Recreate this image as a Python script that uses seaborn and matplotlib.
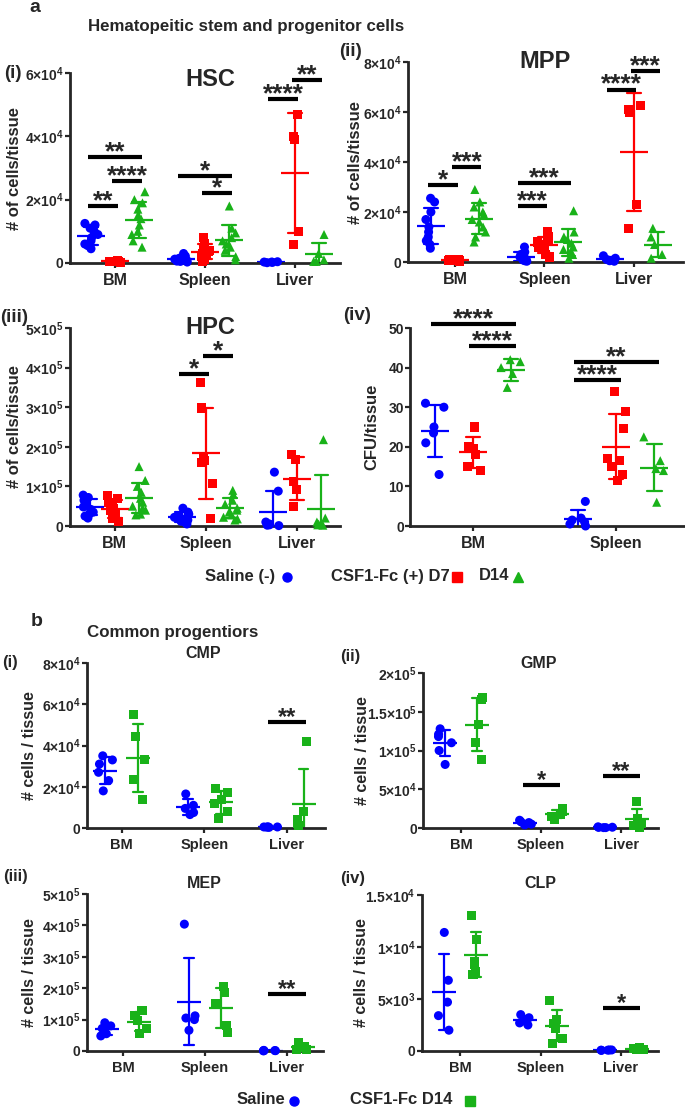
import numpy as np
import pandas as pd
import matplotlib
matplotlib.use("Agg")
import matplotlib.pyplot as plt
from matplotlib.lines import Line2D
from matplotlib.ticker import FuncFormatter
import seaborn as sns

np.random.seed(7)  # only for the horizontal jitter of the dots

W, H = 685, 1110
tissues = ["BM", "Spleen", "Liver"]
tissues_cfu = ["BM", "Spleen"]
groups_a = ["Saline (-)", "CSF1-Fc (+) D7", "D14"]
groups_b = ["Saline", "CSF1-Fc D14"]
blue, red, green = "#0000ff", "#ff0000", "#19b219"

# ---- panel a: cells / tissue ----
hsc_saline = {"BM": [12.5e3, 12e3, 11e3, 10e3, 9e3, 8e3, 7e3, 6e3, 5.5e3, 4.5e3],
              "Spleen": [3e3, 2.2e3, 1.5e3, 1.2e3, 1e3, 0.8e3, 0.6e3, 0.5e3, 0.3e3],
              "Liver": [300, 200, 400, 100, 300]}
hsc_d7 = {"BM": [300, 500, 600, 400, 700, 500, 600, 400],
          "Spleen": [8e3, 6e3, 5e3, 4e3, 3.5e3, 3e3, 2.5e3, 2e3, 1e3, 0.5e3],
          "Liver": [47e3, 40e3, 39e3, 10e3, 5.8e3]}
hsc_d14 = {"BM": [22.5e3, 20e3, 19e3, 17e3, 15e3, 14e3, 12e3, 10e3, 9e3, 7e3, 5e3],
           "Spleen": [18e3, 11e3, 9.5e3, 8e3, 7e3, 6e3, 5e3, 4e3, 2e3, 1e3],
           "Liver": [9e3, 3e3, 1e3, 0.5e3, 0.5e3]}

mpp_saline = {"BM": [25.5e3, 24e3, 20e3, 17e3, 14e3, 12e3, 10e3, 8.5e3, 7e3, 5.5e3],
              "Spleen": [6e3, 4e3, 3e3, 2e3, 1.5e3, 1e3, 0.8e3, 0.5e3, 0.3e3],
              "Liver": [2.5e3, 1.5e3, 1e3, 0.5e3, 0.3e3]}
mpp_d7 = {"BM": [1e3, 800, 600, 500, 700, 400, 900, 600],
          "Spleen": [12e3, 10e3, 9e3, 8e3, 7e3, 6.5e3, 6e3, 5e3, 3e3, 2e3],
          "Liver": [62.5e3, 61e3, 60e3, 23e3, 13.5e3]}
mpp_d14 = {"BM": [29e3, 24e3, 22e3, 20e3, 19e3, 17e3, 16e3, 14e3, 12e3, 10e3, 8e3],
           "Spleen": [20.5e3, 12e3, 10e3, 9e3, 7.5e3, 6e3, 5e3, 4e3, 3e3, 1.5e3],
           "Liver": [13.5e3, 10e3, 7e3, 3e3, 1.5e3]}

hpc_saline = {"BM": [78e3, 72e3, 65e3, 55e3, 48e3, 42e3, 35e3, 30e3, 25e3, 20e3],
              "Spleen": [45e3, 35e3, 30e3, 25e3, 22e3, 20e3, 15e3, 12e3, 8e3, 5e3],
              "Liver": [136e3, 88e3, 10e3, 5e3, 3e3, 2e3, 1e3]}
hpc_d7 = {"BM": [78e3, 70e3, 60e3, 50e3, 45e3, 38e3, 30e3, 25e3, 18e3, 12e3],
          "Spleen": [363e3, 298e3, 171e3, 165e3, 160e3, 108e3, 19e3],
          "Liver": [180e3, 167e3, 112e3, 91e3, 49e3]}
hpc_d14 = {"BM": [150e3, 115e3, 100e3, 85e3, 70e3, 60e3, 50e3, 45e3, 40e3, 30e3, 28e3],
           "Spleen": [90e3, 80e3, 65e3, 55e3, 45e3, 40e3, 35e3, 28e3, 22e3, 18e3, 15e3],
           "Liver": [218e3, 20e3, 10e3, 5e3, 3e3, 2e3]}

cfu_saline = {"BM": [31, 30, 25, 23.5, 21, 13], "Spleen": [6.2, 2, 1.5, 1, 0.5, 0]}
cfu_d7 = {"BM": [25, 20, 19.5, 18, 15, 14], "Spleen": [34, 29, 24.5, 17, 16.5, 15, 13, 11.5]}
cfu_d14 = {"BM": [42, 41.5, 40, 38.5, 35], "Spleen": [22.5, 16.5, 14.5, 14, 6]}

# ---- panel b: common progenitors ----
cmp_saline = {"BM": [35e3, 33e3, 31e3, 27e3, 23e3, 18e3],
              "Spleen": [16.5e3, 11e3, 9.5e3, 7.5e3, 6.5e3],
              "Liver": [600, 500, 400, 500, 300]}
cmp_d14 = {"BM": [55e3, 44.5e3, 33e3, 23.5e3, 13.7e3],
           "Spleen": [19e3, 17e3, 14e3, 12e3, 8e3, 4.5e3],
           "Liver": [42e3, 8e3, 4e3, 2e3, 1e3]}

gmp_saline = {"BM": [128e3, 121e3, 118e3, 110e3, 100e3, 82e3],
              "Spleen": [10e3, 8e3, 7e3, 5e3, 4e3],
              "Liver": [1.5e3, 1e3, 800, 500, 500]}
gmp_d14 = {"BM": [168e3, 166e3, 134e3, 110e3, 89e3],
           "Spleen": [25e3, 21e3, 18e3, 15e3, 11e3],
           "Liver": [34e3, 12e3, 6e3, 3e3, 1e3]}

mep_saline = {"BM": [90e3, 80e3, 72e3, 55e3, 48e3],
              "Spleen": [404e3, 112e3, 105e3, 100e3, 66e3],
              "Liver": [2e3, 1.5e3, 1e3, 1e3, 500]}
mep_d14 = {"BM": [130e3, 112e3, 98e3, 72e3, 56e3],
           "Spleen": [205e3, 185e3, 150e3, 80e3, 60e3],
           "Liver": [28e3, 15e3, 10e3, 6e3, 4e3]}

clp_saline = {"BM": [11.4e3, 6.8e3, 4.7e3, 3.4e3, 2e3],
              "Spleen": [3.5e3, 3.2e3, 2.9e3, 2.7e3, 2.5e3],
              "Liver": [100, 80, 100, 60, 80]}
clp_d14 = {"BM": [13e3, 10.7e3, 8.6e3, 8.3e3, 7.6e3, 7.4e3],
           "Spleen": [4.9e3, 3e3, 2.6e3, 2.2e3, 1.2e3, 0.7e3],
           "Liver": [300, 250, 200, 150, 100]}

# significance: (tissue index, group i, group j, y, stars)
hsc_sig = [(0, 0, 1, 18e3, "**"), (0, 0, 2, 33.5e3, "**"), (0, 1, 2, 25.9e3, "****"),
           (1, 0, 2, 27.5e3, "*"), (1, 1, 2, 22e3, "*"),
           (2, 0, 1, 51.8e3, "****"), (2, 1, 2, 57.8e3, "**")]
mpp_sig = [(0, 0, 1, 30.8e3, "*"), (0, 1, 2, 38e3, "***"),
           (1, 0, 1, 22.4e3, "***"), (1, 0, 2, 31.6e3, "***"),
           (2, 0, 1, 69e3, "****"), (2, 1, 2, 76.5e3, "***")]
hpc_sig = [(1, 0, 1, 384e3, "*"), (1, 1, 2, 429e3, "*")]
cfu_sig = [(0, 0, 2, 51.0, "****"), (0, 1, 2, 45.5, "****"),
           (1, 0, 2, 41.4, "**"), (1, 0, 1, 36.9, "****")]
cmp_sig = [(2, 0, 1, 51.4e3, "**")]
gmp_sig = [(1, 0, 1, 55.5e3, "*"), (2, 0, 1, 67e3, "**")]
mep_sig = [(2, 0, 1, 181e3, "**")]
clp_sig = [(2, 0, 1, 4.13e3, "*")]

sns.set_style("ticks")
plt.rcParams["font.family"] = ["Liberation Sans", "DejaVu Sans"]
plt.rcParams["font.weight"] = "bold"
plt.rcParams["mathtext.fontset"] = "custom"
plt.rcParams["mathtext.rm"] = "Liberation Sans:bold"
plt.rcParams["mathtext.bf"] = "Liberation Sans:bold"
plt.rcParams["mathtext.default"] = "rm"

fig = plt.figure(figsize=(W / 100, H / 100), dpi=100)


def px_axes(x0, y0, x1, y1):
    return fig.add_axes([x0 / W, 1 - y1 / H, (x1 - x0) / W, (y1 - y0) / H])


def ftext(x, y, s, size, ha="center"):
    fig.text(x / W, 1 - y / H, s, fontsize=size, fontweight="bold", ha=ha, va="center")


def sci(v, pos):
    if v == 0:
        return "0"
    e = int(np.floor(np.log10(v) + 1e-9))
    m = v / 10 ** e
    return r"$%s{\times}10^{%d}$" % (f"{m:g}", e)


def panel(ax, series, names, colors, markers, order, ymax, ystep, ylabel, ydx, sig,
          xlim, mean_len, capsize, xsize, star_size, sci_ticks=True):
    frames = []
    for name, data in zip(names, series):
        for t in order:
            frames.append(pd.DataFrame({"group": name, "tissue": t, "value": data[t]}))
    df = pd.concat(frames, ignore_index=True)
    pal = dict(zip(names, colors))
    n = len(names)
    for name, mk in zip(names, markers):
        sns.stripplot(data=df[df.group == name], x="tissue", y="value", hue="group",
                      order=order, hue_order=names, palette=pal, dodge=True,
                      jitter=0.24 if n == 3 else 0.18, marker=mk, size=6.5,
                      linewidth=0, legend=False, ax=ax)
    for c in ax.collections:
        c.set_clip_on(False)
    sns.pointplot(data=df, x="tissue", y="value", hue="group", order=order,
                  hue_order=names, palette=pal, errorbar="sd", dodge=0.8 * (n - 1) / n,
                  capsize=capsize, markers="_", markersize=mean_len, markeredgewidth=1.6,
                  linestyle="none", err_kws={"linewidth": 1.6, "linestyle": "-"},
                  legend=False, ax=ax)

    offs = [-0.4 + 0.8 / n * (i + 0.5) for i in range(n)]
    for cat, g1, g2, y, stars in sig:
        x1, x2 = cat + offs[g1] - 0.03, cat + offs[g2] + 0.03
        ax.plot([x1, x2], [y, y], color="black", lw=3, solid_capstyle="butt", clip_on=False)
        ax.annotate(stars, ((x1 + x2) / 2, y), xytext=(0, -1.5), textcoords="offset points",
                    ha="center", va="baseline", fontsize=star_size, fontweight="bold",
                    annotation_clip=False)

    ax.set_xlim(*xlim)
    ax.set_ylim(0, ymax)
    ax.set_yticks(np.arange(0, ymax + ystep / 2, ystep))
    if sci_ticks:
        ax.yaxis.set_major_formatter(FuncFormatter(sci))
    ax.set_xlabel("")
    ax.set_ylabel(ylabel, fontsize=12 if n == 3 else 11.5, fontweight="bold", va="center")
    w_px = ax.get_position().width * W
    ax.yaxis.set_label_coords(-ydx / w_px, 0.5)
    sns.despine(ax=ax)
    for s in ["left", "bottom"]:
        ax.spines[s].set_linewidth(2)
    ax.tick_params(axis="y", width=1.6, length=3.5, pad=1, labelsize=10)
    ax.tick_params(axis="x", width=1.6, length=3.5, pad=4, labelsize=xsize)
    for lab in ax.get_xticklabels() + ax.get_yticklabels():
        lab.set_fontweight("bold")


mk3 = ["o", "s", "^"]
mk2 = ["o", "s"]
col3 = [blue, red, green]
col2 = [blue, green]

a1 = px_axes(70, 73, 340, 263)
panel(a1, [hsc_saline, hsc_d7, hsc_d14], groups_a, col3, mk3, tissues, 6e4, 2e4,
      "# of cells/tissue", 55, hsc_sig, (-0.5, 2.5), 20, 0.15, 11.5, 19)
a2 = px_axes(408, 62, 683, 262)
panel(a2, [mpp_saline, mpp_d7, mpp_d14], groups_a, col3, mk3, tissues, 8e4, 2e4,
      "# of cells/tissue", 53, mpp_sig, (-0.525, 2.55), 20, 0.15, 11.5, 19)
a3 = px_axes(70, 328, 340, 526)
panel(a3, [hpc_saline, hpc_d7, hpc_d14], groups_a, col3, mk3, tissues, 5e5, 1e5,
      "# of cells/tissue", 55, hpc_sig, (-0.49, 2.47), 20, 0.15, 11.5, 19)
a4 = px_axes(410, 328, 685, 526)
panel(a4, [cfu_saline, cfu_d7, cfu_d14], groups_a, col3, mk3, tissues_cfu, 50, 10,
      "CFU/tissue", 38, cfu_sig, (-0.44, 1.48), 20, 0.1, 11.5, 19, sci_ticks=False)

b1 = px_axes(87, 663, 325, 828)
panel(b1, [cmp_saline, cmp_d14], groups_b, col2, mk2, tissues, 8e4, 2e4,
      "# cells / tissue", 57, cmp_sig, (-0.42, 2.46), 17, 0.12, 10.5, 17)
b2 = px_axes(423, 673, 658, 828)
panel(b2, [gmp_saline, gmp_d14], groups_b, col2, mk2, tissues, 2e5, 5e4,
      "# cells / tissue", 61, gmp_sig, (-0.475, 2.46), 17, 0.12, 10.5, 17)
b3 = px_axes(87, 894, 323, 1051)
panel(b3, [mep_saline, mep_d14], groups_b, col2, mk2, tissues, 5e5, 1e5,
      "# cells / tissue", 57, mep_sig, (-0.44, 2.44), 17, 0.12, 10.5, 17)
b4 = px_axes(422, 895, 658, 1051)
panel(b4, [clp_saline, clp_d14], groups_b, col2, mk2, tissues, 1.5e4, 5e3,
      "# cells / tissue", 60, clp_sig, (-0.475, 2.46), 17, 0.12, 10.5, 17)

# titles and panel labels
ftext(35, 8, "a", 14)
ftext(246, 27, "Hematopeitic stem and progenitor cells", 12.2)
ftext(13, 73, "(i)", 13.5)
ftext(351, 52, "(ii)", 13.5)
ftext(14, 318, "(iii)", 13.5)
ftext(357, 315, "(iv)", 13.5)
ftext(210, 80, "HSC", 17)
ftext(545, 62, "MPP", 17)
ftext(210, 327, "HPC", 17)

ftext(37, 621, "b", 14)
ftext(173, 632, "Common progentiors", 12.2)
ftext(10, 662, "(i)", 12)
ftext(350, 657, "(ii)", 12)
ftext(15, 877, "(iii)", 12)
ftext(353, 878, "(iv)", 12)
ftext(203, 654, "CMP", 11.5)
ftext(539, 663, "GMP", 11.5)
ftext(204, 884, "MEP", 11.5)
ftext(540, 884, "CLP", 11.5)

# legends: label followed by its marker
legend_a = [("Saline (-)", 275, 287, "o", blue), ("CSF1-Fc (+) D7", 450, 457, "s", red),
            ("D14", 509, 518, "^", green)]
for label, xr, xm, mk, c in legend_a:
    ftext(xr, 576, label, 12, ha="right")
    fig.add_artist(Line2D([xm / W], [1 - 577 / H], marker=mk, color=c, ms=6.5, ls="none",
                          transform=fig.transFigure))
legend_b = [("Saline", 285, 294, "o", blue), ("CSF1-Fc D14", 452, 470, "s", green)]
for label, xr, xm, mk, c in legend_b:
    ftext(xr, 1100, label, 12, ha="right")
    fig.add_artist(Line2D([xm / W], [1 - 1101 / H], marker=mk, color=c, ms=6.5, ls="none",
                          transform=fig.transFigure))

fig.savefig("out.png", dpi=100)
